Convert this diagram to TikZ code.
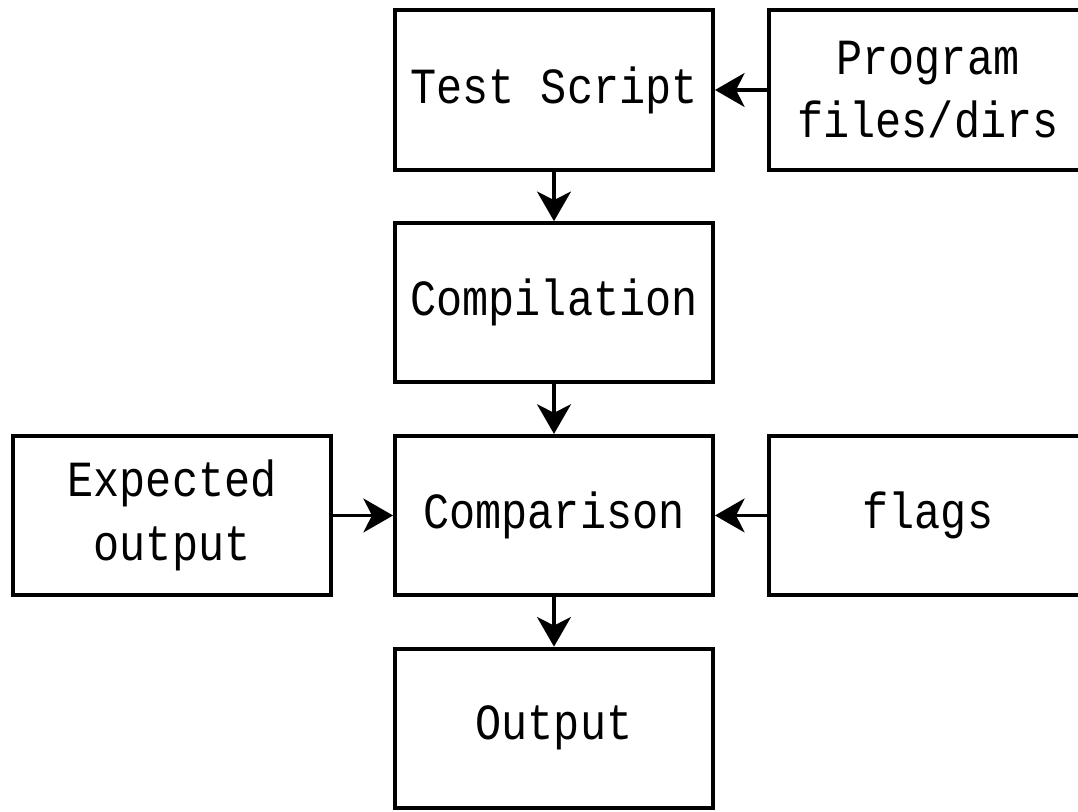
\documentclass[tikz,border=0pt]{standalone}
\usepackage{fontspec}
\usepackage{tikz}
\usetikzlibrary{positioning,arrows.meta}
\newfontfamily\pixfont[FakeStretch=0.86]{Liberation Mono}

\tikzset{
  block/.style={draw, line width=2.8pt, minimum width=7.95cm, minimum height=3.98cm,
    align=center, font=\pixfont\fontsize{36}{45}\selectfont},
  flow/.style={line width=2.8pt, -{Stealth[length=21pt, width=24pt, inset=6pt]}}
}

\begin{document}
\begin{tikzpicture}[node distance=1.24cm]

% Fix the page size
\useasboundingbox (0,0) rectangle (26.95,-20.3);
\clip (0,0) rectangle (26.95,-20.3);

% Draw the main column
\node[block] (script) at (13.85,-2.25) {Test Script};
\node[block, below=of script] (compile) {Compilation};
\node[block, below=of compile] (compare) {Comparison};
\node[block, below=of compare] (output) {Output};

% Draw the side inputs
\node[block, right=1.3cm of script] (files) {Program\\files/dirs};
\node[block, right=1.3cm of compare] (flags) {flags};
\node[block, left=1.5cm of compare] (expected) {Expected\\output};

% Draw the arrows
\draw[flow] (files) -- (script);
\draw[flow] (script) -- (compile);
\draw[flow] (compile) -- (compare);
\draw[flow] (expected) -- (compare);
\draw[flow] (flags) -- (compare);
\draw[flow] (compare) -- (output);

\end{tikzpicture}
\end{document}
